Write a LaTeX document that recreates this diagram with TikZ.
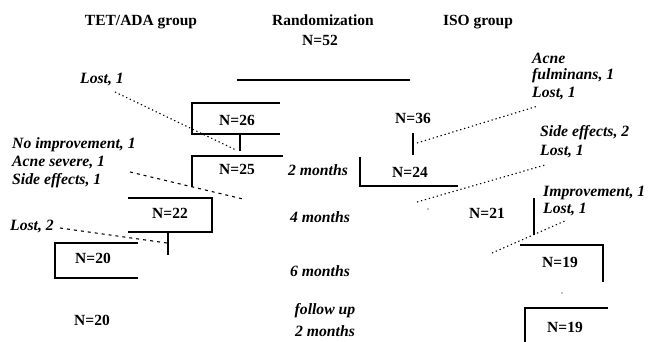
\documentclass[tikz,border=0pt]{standalone}
\usepackage{fontspec}
\setmainfont{Liberation Serif}
\begin{document}
\begin{tikzpicture}[x=1pt,y=-1pt,
  hdr/.style={font=\fontsize{15.5}{18}\selectfont\bfseries, inner sep=0pt, anchor=center},
  ntext/.style={font=\fontsize{15.5}{18}\selectfont\bfseries, inner sep=0pt, anchor=center},
  lbl/.style={font=\fontsize{15.7}{18}\selectfont\bfseries\itshape, inner sep=0pt, anchor=west},
  lblc/.style={font=\fontsize{15.7}{18}\selectfont\bfseries\itshape, inner sep=0pt, anchor=center},
  boxline/.style={line width=1.3pt},
  dotline/.style={line width=1.1pt, dash pattern=on 1.3pt off 2.8pt},
  dashline/.style={line width=1.1pt, dash pattern=on 3pt off 4pt}]
\useasboundingbox (0,0) rectangle (649,342);
% headers
\node[hdr] (tet) at (141,22) {TET/ADA group};
\node[hdr] (rand) at (323,20) {Randomization};
\node[hdr] (n52) at (320,40) {N=52};
\node[hdr] (iso) at (478,22) {ISO group};
\draw[boxline] (237,80) coordinate (r1) -- (410,80) coordinate (r2);
% left branch
\node[lbl] (lost1l) at (80,80) {Lost, 1};
\node[ntext] (n26) at (237,120) {N=26};
\draw[boxline] (280,103) -- (192,103) -- (192,134) -- (280,134);
\draw[boxline] (240,134) -- (240,151);
\coordinate (l1a) at (115,92);
\coordinate (l1b) at (236,150);
\draw[dotline] (l1a) -- (l1b);
\node[lbl] (noimp) at (12,145) {No improvement, 1};
\node[lbl] (acnesev) at (12,163) {Acne severe, 1};
\node[lbl] (side1) at (12,181) {Side effects, 1};
\node[ntext] (n25) at (237,169) {N=25};
\draw[boxline] (283,156) -- (192,156) -- (192,187);
\coordinate (d2a) at (130,172);
\coordinate (d2b) at (243,199);
\draw[dashline] (d2a) -- (d2b);
\node[ntext] (n22) at (170,213) {N=22};
\draw[boxline] (128,198) -- (212,198) -- (212,232) -- (128,232);
\draw[boxline] (168,232) -- (168,255);
\node[lbl] (lost2) at (10,227) {Lost, 2};
\coordinate (d3a) at (60,228);
\coordinate (d3b) at (167,243);
\draw[dashline] (d3a) -- (d3b);
\node[ntext] (n20a) at (93,258) {N=20};
\draw[boxline] (138,243) -- (55,243) -- (55,278) -- (138,278);
\node[ntext] (n20b) at (92,320) {N=20};
% middle time labels
\node[lblc] (m2) at (318,170) {2 months};
\node[lblc] (m4) at (320,217) {4 months};
\node[lblc] (m6) at (320,271) {6 months};
\node[lblc] (fu) at (325,311) {follow up};
\node[lblc] (fu2) at (325,331) {2 months};
% right branch
\node[lbl] (acnef1) at (532,58) {Acne};
\node[lbl] (acnef2) at (532,76) {fulminans, 1};
\node[lbl] (acnef3) at (532,94) {Lost, 1};
\node[ntext] (n36) at (413,118) {N=36};
\draw[boxline] (413,133) -- (413,155);
\coordinate (r3a) at (417,143);
\coordinate (r3b) at (538,106);
\draw[dotline] (r3a) -- (r3b);
\node[ntext] (n24) at (410,172) {N=24};
\draw[boxline] (360,157) -- (360,186) -- (458,186);
\node[lbl] (side2) at (540,133) {Side effects, 2};
\node[lbl] (lost1r) at (540,152) {Lost, 1};
\coordinate (r4a) at (417,202);
\coordinate (r4b) at (545,165);
\draw[dotline] (r4a) -- (r4b);
\fill (428,209) circle (0.6pt);
\node[ntext] (n21) at (487,213) {N=21};
\node[lbl] (imp) at (543,193) {Improvement, 1};
\node[lbl] (lost1r2) at (543,210) {Lost, 1};
\draw[boxline] (534,198) -- (534,235);
\coordinate (r5a) at (492,253);
\coordinate (r5b) at (567,220);
\draw[dotline] (r5a) -- (r5b);
\node[ntext] (n19a) at (560,262) {N=19};
\draw[boxline] (520,245) -- (603,245) -- (603,282);
\fill (562,293) circle (0.6pt);
\node[ntext] (n19b) at (565,327) {N=19};
\draw[boxline] (608,308) -- (525,308) -- (525,342);
\end{tikzpicture}
\end{document}
